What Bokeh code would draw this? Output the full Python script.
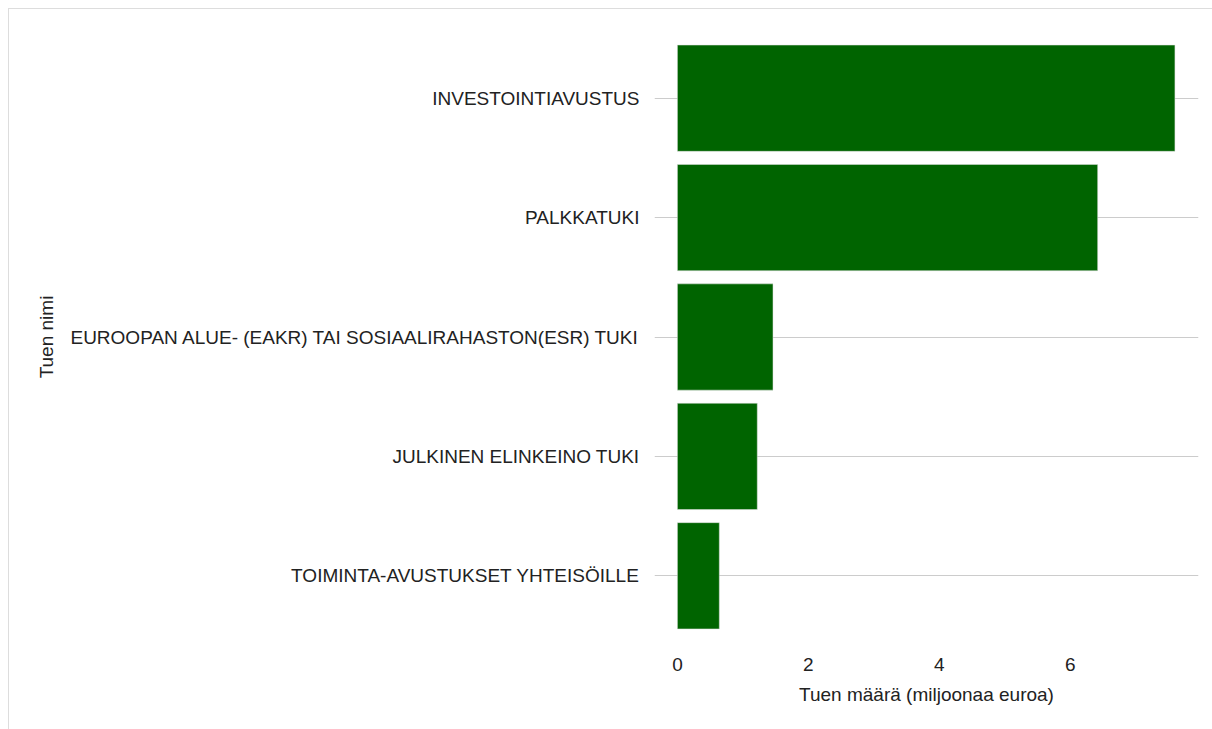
from bokeh.plotting import figure
from bokeh.models import ColumnDataSource, Range1d, FactorRange
from bokeh.embed import file_html
from bokeh.resources import INLINE

categories = [
    "INVESTOINTIAVUSTUS",
    "PALKKATUKI",
    "EUROOPAN ALUE- (EAKR) TAI SOSIAALIRAHASTON(ESR) TUKI",
    "JULKINEN ELINKEINO TUKI",
    "TOIMINTA-AVUSTUKSET YHTEISÖILLE",
]
values = [7.6, 6.42, 1.46, 1.22, 0.64]
x_ticks = [0, 2, 4, 6]

source = ColumnDataSource(data=dict(name=categories, amount=values))

p = figure(
    width=1204, height=721,
    y_range=FactorRange(factors=list(reversed(categories)), range_padding=0),
    x_range=Range1d(-0.35, 7.96),
    output_backend="svg", toolbar_location=None,
    min_border_left=645, min_border_right=15, min_border_top=29, min_border_bottom=95,
)
p.margin = (8, 0, 0, 8)
p.styles = {"border-top": "1px solid #dddddd", "border-left": "1px solid #dddddd"}

p.hbar(y="name", right="amount", left=0, height=0.89, source=source,
       fill_color="#006400", line_color="#e0e0e0", line_width=0.5)

p.outline_line_color = None
p.background_fill_color = "white"
p.border_fill_color = "white"

p.xgrid.grid_line_color = None
p.ygrid.grid_line_color = "#cccccc"
p.ygrid.grid_line_width = 1

p.xaxis.ticker = x_ticks
p.xaxis.axis_line_color = None
p.xaxis.major_tick_line_color = None
p.xaxis.minor_tick_line_color = None
p.xaxis.major_label_standoff = 16
p.xaxis.axis_label = "Tuen määrä (miljoonaa euroa)"
p.xaxis.axis_label_standoff = 10

p.yaxis.axis_line_color = None
p.yaxis.major_tick_line_color = None
p.yaxis.minor_tick_line_color = None
p.yaxis.major_label_standoff = 9
p.yaxis.axis_label = "Tuen nimi"
p.yaxis.axis_label_standoff = 10

for ax in (p.xaxis, p.yaxis):
    ax.major_label_text_font = "Liberation Sans"
    ax.major_label_text_font_size = "19px"
    ax.major_label_text_color = "#222222"
    ax.axis_label_text_font = "Liberation Sans"
    ax.axis_label_text_font_size = "19px"
    ax.axis_label_text_font_style = "normal"
    ax.axis_label_text_color = "#222222"

open("out.html", "w").write(file_html(p, INLINE))
